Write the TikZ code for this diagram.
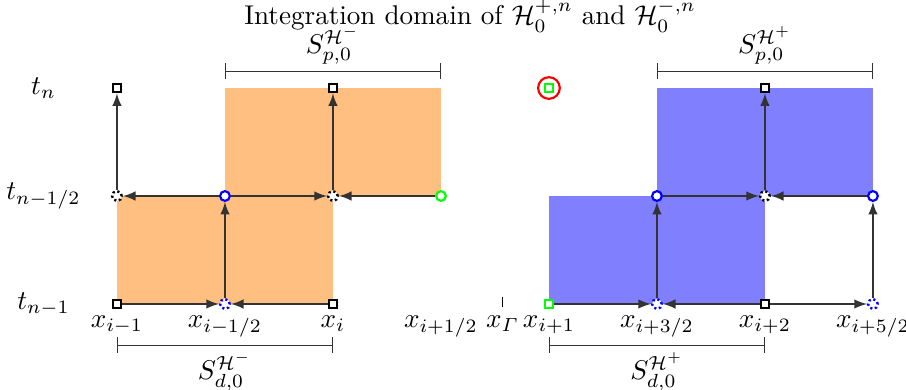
\documentclass[tikz,border=0pt]{standalone}
\usepackage{amsmath, amssymb}
\usepackage{tikz}
\usepackage{xcolor}

\begin{document}
\begin{tikzpicture}[x=1.4cm, y=1.4cm, >=latex,
    sq/.style={draw, rectangle, line width=0.8pt, fill=white, inner sep=0pt, minimum size=3.2pt},
    sqg/.style={sq, draw=green},
    cb/.style={draw=blue, circle, line width=0.8pt, fill=white, inner sep=0pt, minimum size=3.6pt},
    cg/.style={cb, draw=green},
    cbd/.style={cb, densely dotted, line width=0.9pt},
    ckd/.style={cbd, draw=black},
    flux/.style={->, black!80, line width=0.6pt},
    lab/.style={inner sep=0.5pt, black}]

\useasboundingbox (-1.083,-0.796) rectangle (7.306,2.815);

% Domaines
\fill[orange!50] (0,0) rectangle (2,1);
\fill[orange!50] (1,1) rectangle (3,2);
\fill[blue!50] (4,0) rectangle (6,1);
\fill[blue!50] (5,1) rectangle (7,2);

% Titre
\node[inner sep=0pt] (titre) at (3.27,2.665) {Integration domain of $\mathcal{H}_0^{+,n}$ and $\mathcal{H}_0^{-,n}$};

% Temps
\node (tn)  at (-0.68,2) {$t_n$};
\node (tnh) at (-0.68,1) {$t_{n-1/2}$};
\node (tnm) at (-0.68,0) {$t_{n-1}$};

% Points de gauche
\node[sq]  (a00) at (0,0) {};
\node[cbd] (a10) at (1,0) {};
\node[sq]  (a20) at (2,0) {};
\node[ckd] (a01) at (0,1) {};
\node[cb]  (a11) at (1,1) {};
\node[ckd] (a21) at (2,1) {};
\node[cg]  (a31) at (3,1) {};
\node[sq]  (a02) at (0,2) {};
\node[sq]  (a22) at (2,2) {};

% Points de droite
\node[sqg] (b40) at (4,0) {};
\node[cbd] (b50) at (5,0) {};
\node[sq]  (b60) at (6,0) {};
\node[cbd] (b70) at (7,0) {};
\node[cb]  (b51) at (5,1) {};
\node[ckd] (b61) at (6,1) {};
\node[cb]  (b71) at (7,1) {};
\node[sqg] (b42) at (4,2) {};
\node[sq]  (b62) at (6,2) {};
\node[draw=red, circle, line width=0.8pt, minimum size=8pt, inner sep=0pt] (cercle) at (b42) {};

% Flux
\draw[flux] (a00) -- (a10);
\draw[flux] (a20) -- (a10);
\draw[flux] (a10) -- (a11);
\draw[flux] (a11) -- (a01);
\draw[flux] (a11) -- (a21);
\draw[flux] (a31) -- (a21);
\draw[flux] (a01) -- (a02);
\draw[flux] (a21) -- (a22);

\draw[flux] (b40) -- (b50);
\draw[flux] (b60) -- (b50);
\draw[flux] (b60) -- (b70);
\draw[flux] (b50) -- (b51);
\draw[flux] (b70) -- (b71);
\draw[flux] (b51) -- (b61);
\draw[flux] (b71) -- (b61);
\draw[flux] (b61) -- (b62);

% Interface
\draw (3.57,-0.03) -- (3.57,0.065);

% Abscisses
\node[anchor=base] at (0,-0.22)    {$x_{i-1}$};
\node[anchor=base] at (1,-0.22)    {$x_{i-1/2}$};
\node[anchor=base] at (2,-0.22)    {$x_i$};
\node[anchor=base] at (3,-0.22)    {$x_{i+1/2}$};
\node[anchor=base] at (3.57,-0.22) {$x_{\varGamma}$};
\node[anchor=base] at (4,-0.22)    {$x_{i+1}$};
\node[anchor=base] at (5,-0.22)    {$x_{i+3/2}$};
\node[anchor=base] at (6,-0.22)    {$x_{i+2}$};
\node[anchor=base] at (7,-0.22)    {$x_{i+5/2}$};

% Supports
\draw[|-|, black!80] (1,2.157) -- (3,2.157) node[midway, above=2pt, lab] {$S_{p,0}^{\mathcal{H}^-}$};
\draw[|-|, black!80] (5,2.157) -- (7,2.157) node[midway, above=2pt, lab] {$S_{p,0}^{\mathcal{H}^+}$};
\draw[|-|, black!80] (0,-0.38) -- (2,-0.38) node[midway, below=2pt, lab] {$S_{d,0}^{\mathcal{H}^-}$};
\draw[|-|, black!80] (4,-0.38) -- (6,-0.38) node[midway, below=2pt, lab] {$S_{d,0}^{\mathcal{H}^+}$};

\end{tikzpicture}
\end{document}
